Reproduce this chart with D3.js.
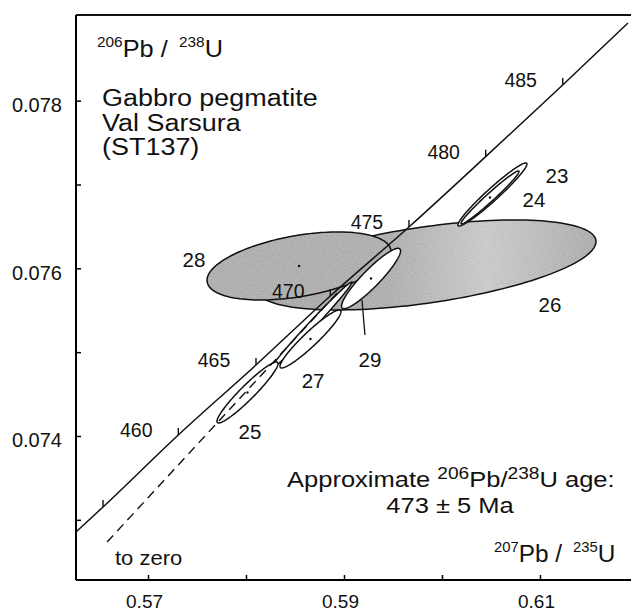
<!DOCTYPE html>
<html>
<head>
<meta charset="utf-8">
<script src="https://cdn.jsdelivr.net/npm/d3@7"></script>
<style>
  body { margin: 0; background: #fff; }
  svg { display: block; }
  text { font-family: "Liberation Sans", Arial, sans-serif; fill: #111; }
</style>
</head>
<body>
<script>
// concordia, points (207Pb/235U, 206Pb/238U)
var concAges = [453, 455, 460, 465, 470, 475, 480, 485, 489];
var concX = [0.56265, 0.56541, 0.57309, 0.58102, 0.5886, 0.59663, 0.60446, 0.61232, 0.61898];
var concY = [0.072855, 0.073153, 0.074012, 0.074847, 0.07567, 0.076493, 0.077332, 0.078187, 0.078927];
var concTicks = [455, 460, 465, 470, 475, 480, 485];
var concLabels = [460, 465, 470, 475, 480, 485];

// discordia towards zero
var chordX = [0.56582, 0.58959];
var chordY = [0.072735, 0.075742];

// analyses: centre, half ranges, correlation
var grainIds = ['26', '28', '', '25', '27', '29', '23', '24'];
var grainX   = [0.59837, 0.58541, 0.58663, 0.58015, 0.58658, 0.59276, 0.60515, 0.6049];
var grainY   = [0.07604, 0.076028, 0.075312, 0.074519, 0.075157, 0.075879, 0.076881, 0.076845];
var grainSx  = [0.017347, 0.009388, 0.004184, 0.003112, 0.003112, 0.003010, 0.00352, 0.002959];
var grainSy  = [0.000537, 0.000406, 0.000525, 0.000364, 0.000346, 0.000360, 0.000376, 0.000316];
var grainRho = [0.52, 0.42, 0.993, 0.946, 0.943, 0.915, 0.966, 0.979];
var grainShaded = [true, true, false, false, false, false, false, false];

// where the analysis numbers sit
var labelIds = ['28', '26', '23', '24', '27', '25', '29'];
var labelX = [0.57469, 0.61102, 0.61173, 0.60939, 0.58684, 0.58041, 0.59265];
var labelY = [0.076016, 0.07548, 0.077018, 0.076732, 0.074573, 0.073964, 0.074823];

var xTicks = [0.57, 0.58, 0.59, 0.60, 0.61];
var xTickLabels = ['0.57', '', '0.59', '', '0.61'];
var yTicks = [0.073, 0.074, 0.075, 0.076, 0.077, 0.078];
var yTickLabels = ['', '0.074', '', '0.076', '', '0.078'];

var width = 631, height = 612;
var svg = d3.select('body').append('svg')
  .attr('width', width)
  .attr('height', height);

var x = d3.scaleLinear().domain([0.56265, 0.61929]).range([76, 631]);
var y = d3.scaleLinear().domain([0.072282, 0.079022]).range([580, 15]);

var defs = svg.append('defs');
defs.append('clipPath').attr('id', 'plot')
  .append('rect')
  .attr('x', 76).attr('y', 15)
  .attr('width', 555).attr('height', 565);

var grad = defs.append('linearGradient').attr('id', 'shade26')
  .attr('x1', '0%').attr('x2', '100%').attr('y1', '0%').attr('y2', '0%');
grad.append('stop').attr('offset', '0%').attr('stop-color', '#aaaaaa');
grad.append('stop').attr('offset', '40%').attr('stop-color', '#b2b2b2');
grad.append('stop').attr('offset', '68%').attr('stop-color', '#cbcbcb');
grad.append('stop').attr('offset', '100%').attr('stop-color', '#afafaf');

// stipple grain for the shaded ellipses
var grain = defs.append('filter').attr('id', 'grain')
  .attr('x', '0%').attr('y', '0%').attr('width', '100%').attr('height', '100%');
grain.append('feTurbulence')
  .attr('type', 'fractalNoise').attr('baseFrequency', 0.9)
  .attr('numOctaves', 1).attr('seed', 4).attr('result', 't');
grain.append('feColorMatrix')
  .attr('in', 't').attr('type', 'matrix')
  .attr('values', '0.33 0.33 0.33 0 0  0.33 0.33 0.33 0 0  0.33 0.33 0.33 0 0  0 0 0 0 1')
  .attr('result', 'g');
grain.append('feComposite')
  .attr('in', 'SourceGraphic').attr('in2', 'g').attr('operator', 'arithmetic')
  .attr('k1', 0).attr('k2', 1).attr('k3', 0.4).attr('k4', -0.2)
  .attr('result', 'c');
grain.append('feComposite')
  .attr('in', 'c').attr('in2', 'SourceGraphic').attr('operator', 'in');

var plot = svg.append('g').attr('clip-path', 'url(#plot)');

function ellipsePoints(i) {
  var pts = [], k = Math.sqrt(1 - grainRho[i] * grainRho[i]);
  for (var s = 0; s <= 160; s++) {
    var t = s / 160 * 2 * Math.PI;
    pts.push([
      x(grainX[i] + grainSx[i] * Math.cos(t)),
      y(grainY[i] + grainSy[i] * (grainRho[i] * Math.cos(t) + k * Math.sin(t)))
    ]);
  }
  return pts;
}

var ellipseLine = d3.line().curve(d3.curveLinearClosed);

grainIds.forEach(function(id, i) {
  var d = ellipseLine(ellipsePoints(i));
  if (grainShaded[i]) {
    plot.append('path')
      .attr('d', d)
      .attr('fill', id === '26' ? 'url(#shade26)' : '#b1b1b1')
      .attr('filter', 'url(#grain)');
    plot.append('path')
      .attr('d', d)
      .attr('fill', 'none')
      .attr('stroke', '#111')
      .attr('stroke-width', 1.5);
  } else {
    plot.append('path')
      .attr('d', d)
      .attr('fill', '#fff')
      .attr('stroke', '#111')
      .attr('stroke-width', 1.5);
  }
  if (id !== '' && id !== '26') {
    plot.append('circle')
      .attr('cx', x(grainX[i])).attr('cy', y(grainY[i]))
      .attr('r', 1.2).attr('fill', '#111');
  }
});

// dashed chord to zero
plot.append('line')
  .attr('x1', x(chordX[0])).attr('y1', y(chordY[0]))
  .attr('x2', x(chordX[1])).attr('y2', y(chordY[1]))
  .attr('stroke', '#111')
  .attr('stroke-width', 1.4)
  .attr('stroke-dasharray', '9,6');

// concordia
var conc = concAges.map(function(a, i) { return {age: a, x: concX[i], y: concY[i]}; });
plot.append('path')
  .datum(conc)
  .attr('d', d3.line().x(function(d) { return x(d.x); }).y(function(d) { return y(d.y); }).curve(d3.curveMonotoneX))
  .attr('fill', 'none')
  .attr('stroke', '#111')
  .attr('stroke-width', 1.5);

var tickPts = conc.filter(function(d) { return concTicks.indexOf(d.age) >= 0; });
plot.selectAll('line.ctick')
  .data(tickPts)
  .enter()
  .append('line')
  .attr('class', 'ctick')
  .attr('x1', function(d) { return x(d.x); })
  .attr('x2', function(d) { return x(d.x); })
  .attr('y1', function(d) { return y(d.y); })
  .attr('y2', function(d) { return y(d.y) - 7; })
  .attr('stroke', '#111')
  .attr('stroke-width', 1.4);

var labelPts = conc.filter(function(d) { return concLabels.indexOf(d.age) >= 0; });
svg.selectAll('text.clabel')
  .data(labelPts)
  .enter()
  .append('text')
  .attr('class', 'clabel')
  .attr('x', function(d) { return x(d.x) - 42; })
  .attr('y', function(d) { return y(d.y) + 2; })
  .attr('text-anchor', 'middle')
  .attr('font-size', 19.5)
  .text(function(d) { return d.age; });

// analysis numbers
labelIds.forEach(function(id, i) {
  svg.append('text')
    .attr('x', x(labelX[i]))
    .attr('y', y(labelY[i]))
    .attr('text-anchor', 'middle')
    .attr('font-size', 20.5)
    .text(id);
});
// leader for 29
var i29 = labelIds.indexOf('29');
svg.append('line')
  .attr('x1', x(labelX[i29]) - 8).attr('y1', y(labelY[i29]) - 67)
  .attr('x2', x(labelX[i29]) - 5).attr('y2', y(labelY[i29]) - 32)
  .attr('stroke', '#111').attr('stroke-width', 1.3);

// axes
var xAxis = d3.axisBottom(x)
  .tickValues(xTicks)
  .tickSizeInner(-5)
  .tickSizeOuter(0)
  .tickFormat(function(d, i) { return xTickLabels[i]; });
var gx = svg.append('g')
  .attr('transform', 'translate(0,580)')
  .call(xAxis);
gx.select('.domain').attr('d', 'M76,0H631').attr('stroke-width', 2);
gx.selectAll('.tick line').attr('stroke-width', 1.5);
gx.selectAll('.tick text')
  .attr('y', 27.5).attr('dy', 0).attr('dx', -4)
  .attr('font-size', 19)
  .attr('font-family', '"Liberation Sans", Arial, sans-serif')
  .attr('fill', '#111');

var yAxis = d3.axisLeft(y)
  .tickValues(yTicks)
  .tickSizeInner(-5)
  .tickSizeOuter(0)
  .tickFormat(function(d, i) { return yTickLabels[i]; });
var gy = svg.append('g')
  .attr('transform', 'translate(76,0)')
  .call(yAxis);
gy.select('.domain').attr('d', 'M0,15V580').attr('stroke-width', 2);
gy.selectAll('.tick line').attr('stroke-width', 1.5);
gy.selectAll('.tick text')
  .attr('x', -14).attr('dy', 11)
  .attr('font-size', 20)
  .attr('font-family', '"Liberation Sans", Arial, sans-serif')
  .attr('fill', '#111');

// top frame
svg.append('line')
  .attr('x1', 76).attr('x2', 631).attr('y1', 15).attr('y2', 15)
  .attr('stroke', '#111').attr('stroke-width', 2);

// text helpers
function stretched(px, py, size, anchor, sx) {
  return svg.append('text')
    .attr('transform', 'translate(' + px + ',' + py + ') scale(' + (sx || 1.1) + ',1)')
    .attr('font-size', size)
    .attr('text-anchor', anchor || 'start')
    .attr('xml:space', 'preserve');
}
function ratio(t, top, bot) {
  t.append('tspan').attr('font-size', 14).attr('dy', -10).text(top);
  t.append('tspan').attr('dy', 10).text('Pb / ');
  t.append('tspan').attr('font-size', 14).attr('dy', -10).text(' ' + bot);
  t.append('tspan').attr('dy', 10).text('U');
}

ratio(stretched(97, 57, 23), '206', '238');
ratio(stretched(494, 562, 23, 'start', 1.06), '207', '235');

stretched(102, 106, 24.5).text('Gabbro pegmatite');
stretched(102, 130.5, 24.5).text('Val Sarsura');
stretched(102, 155, 24.5).text('(ST137)');

var age = stretched(287, 487, 22, 'start', 1.16);
age.append('tspan').text('Approximate ');
age.append('tspan').attr('font-size', 16.5).attr('dy', -8).text('206');
age.append('tspan').attr('dy', 8).text('Pb/');
age.append('tspan').attr('font-size', 16.5).attr('dy', -8).text('238');
age.append('tspan').attr('dy', 8).text('U age:');
stretched(450, 513, 22, 'middle', 1.16).text('473 \u00b1 5 Ma');

stretched(115, 565, 20).text('to zero');
</script>
</body>
</html>
